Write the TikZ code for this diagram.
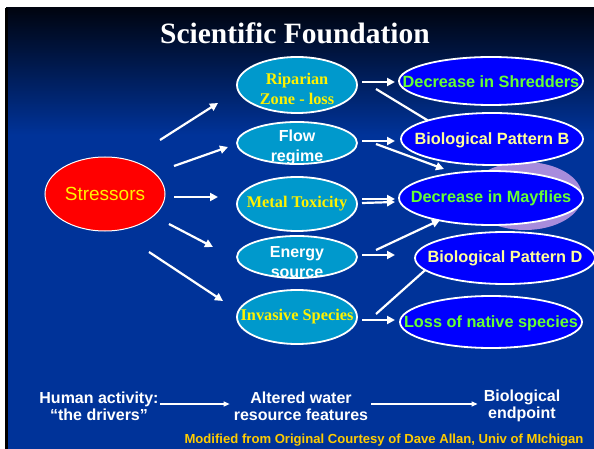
\documentclass[tikz,border=0pt]{standalone}
\usepackage{fontspec}
\setmainfont{Liberation Serif}
\setsansfont{Liberation Sans}
\usetikzlibrary{shapes.geometric,arrows.meta}
\definecolor{slideblue}{RGB}{0,51,153}
\definecolor{topblack}{RGB}{0,4,16}
\definecolor{cyanfill}{RGB}{0,153,204}
\definecolor{bluefill}{RGB}{0,0,255}
\definecolor{greentxt}{RGB}{102,255,51}
\definecolor{paleyellow}{RGB}{255,255,153}
\definecolor{credit}{RGB}{255,204,0}
\definecolor{lavender}{RGB}{168,140,220}
\pgfdeclarelayer{bg}
\pgfdeclarelayer{arrows}
\pgfsetlayers{bg,arrows,main}
\begin{document}
\begin{tikzpicture}[x=1pt,y=-1pt,
  stress/.style={ellipse,draw=white,line width=1pt,fill=red,minimum width=120pt,minimum height=74pt,inner sep=0pt},
  mid/.style={ellipse,draw=white,line width=1.8pt,fill=cyanfill,minimum width=120pt,inner sep=0pt},
  res/.style={ellipse,draw=white,line width=1.8pt,fill=bluefill,minimum width=184pt,minimum height=52pt,inner sep=0pt},
  serifyellow/.style={font=\bfseries\fontsize{16.3}{20}\selectfont,text=yellow,align=center,inner sep=0pt},
  sanswhite/.style={font=\sffamily\bfseries\fontsize{16}{20}\selectfont,text=white,align=center,inner sep=0pt},
  greenlab/.style={font=\sffamily\bfseries\fontsize{16.3}{18}\selectfont,text=greentxt,inner sep=0pt},
  palelab/.style={font=\sffamily\bfseries\fontsize{16.3}{18}\selectfont,text=paleyellow,inner sep=0pt},
  bottomtxt/.style={font=\sffamily\bfseries\fontsize{16}{17}\selectfont,text=white,align=center,inner sep=0pt},
  arr/.style={draw=white,line width=2.2pt,-{Triangle[length=8pt,width=8pt]}},
  plainline/.style={draw=white,line width=2.2pt},
  thinarr/.style={draw=white,line width=1.2pt,-{Triangle[length=6pt,width=5pt]}}
]
\useasboundingbox (0,0) rectangle (594,449);
\begin{pgfonlayer}{bg}
  \fill[white] (0,0) rectangle (594,449);
  \fill[slideblue] (6,8) rectangle (594,449);
  \shade[top color=topblack,bottom color=slideblue] (6,8) rectangle (594,135);
  \fill[black] (5,8) rectangle (8,449);
\end{pgfonlayer}

\node[font=\bfseries\fontsize{29.5}{31}\selectfont,text=white] (title) at (295,33) {Scientific Foundation};

\node[stress,label={[font=\sffamily\fontsize{19}{20}\selectfont,text=yellow]center:Stressors}] (S) at (105,194) {};

\node[mid,minimum height=56pt,label={[serifyellow,yshift=-4pt]center:Riparian\\Zone - loss}] (R) at (297,85) {};
\node[mid,minimum height=42pt,label={[sanswhite,yshift=-4pt]center:Flow\\regime}] (F) at (297,143) {};
\node[mid,minimum height=54pt,label={[serifyellow]center:Metal Toxicity}] (M) at (297,204) {};
\node[mid,minimum height=42pt,label={[sanswhite,yshift=-5pt]center:Energy\\source}] (E) at (297,257) {};
\node[mid,minimum height=54pt,label={[serifyellow]center:Invasive Species}] (I) at (297,317) {};

\node[ellipse,fill=lavender,minimum width=114pt,minimum height=68pt,inner sep=0pt] (P) at (525,196) {};

\node[res,minimum height=48pt,label={[greenlab,yshift=-1pt]center:Decrease in Shredders}] (A) at (491,81) {};
\node[res,minimum width=182pt,label={[palelab,yshift=-1pt]center:Biological Pattern B}] (B) at (492,139) {};
\node[res,minimum height=54pt,label={[greenlab]center:Decrease in Mayflies}] (C) at (491,198) {};
\node[res,minimum width=180pt,label={[palelab]center:Biological Pattern D}] (D) at (505,258) {};
\node[res,minimum width=182pt,label={[greenlab,yshift=-1pt]center:Loss of native species}] (L) at (491,322) {};

\node[bottomtxt] (H) at (99,406) {Human activity:\\“the drivers”};
\node[bottomtxt] (W) at (301,406) {Altered water\\resource features};
\node[bottomtxt] (Bio) at (522,406) {Biological\\endpoint};

\node[font=\sffamily\bfseries\fontsize{13.1}{14}\selectfont,text=credit] (cred) at (384,440) {Modified from Original Courtesy of Dave Allan, Univ of MIchigan};

\begin{pgfonlayer}{arrows}
  % stressors to altered features
  \draw[arr] ([shift={(55,-54)}]S.center) -- ([shift={(-79,18)}]R.center);
  \draw[arr] ([shift={(69,-28)}]S.center) -- ([shift={(-69,4)}]F.center);
  \draw[arr] ([shift={(69,3)}]S.center) -- ([shift={(-79,-7)}]M.center);
  \draw[arr] ([shift={(64,30)}]S.center) -- ([shift={(-84,-10)}]E.center);
  \draw[arr] ([shift={(44,58)}]S.center) -- ([shift={(-74,-16)}]I.center);
  % features to endpoints
  \draw[arr] ([shift={(65,-3)}]R.center) -- ([shift={(-96,1)}]A.center);
  \draw[plainline] ([shift={(79,4)}]R.center) -- ([shift={(-37,-2)}]B.center);
  \draw[arr] ([shift={(65,-2)}]F.center) -- ([shift={(-97,2)}]B.center);
  \draw[arr] ([shift={(79,1)}]F.center) -- ([shift={(-47,-29)}]C.center);
  \draw[arr] ([shift={(65,-5)}]M.center) -- ([shift={(-96,1)}]C.center);
  \draw[arr] ([shift={(65,-1)}]M.center) -- ([shift={(-96,4)}]C.center);
  \draw[arr] ([shift={(65,-2)}]E.center) -- ([shift={(-110,-3)}]D.center);
  \draw[arr] ([shift={(79,-7)}]E.center) -- ([shift={(-51,22)}]C.center);
  \draw[arr] ([shift={(65,3)}]I.center) -- ([shift={(-96,-2)}]L.center);
  \draw[plainline] ([shift={(79,-3)}]I.center) -- ([shift={(-73,6)}]D.center);
\end{pgfonlayer}

\draw[thinarr] (H.east |- 0,404) ++(1,0) -- ([xshift=-4pt]W.west |- 0,404);
\draw[thinarr] ([xshift=3pt]W.east |- 0,404) -- ([xshift=-6pt]Bio.west |- 0,404);
\end{tikzpicture}
\end{document}
